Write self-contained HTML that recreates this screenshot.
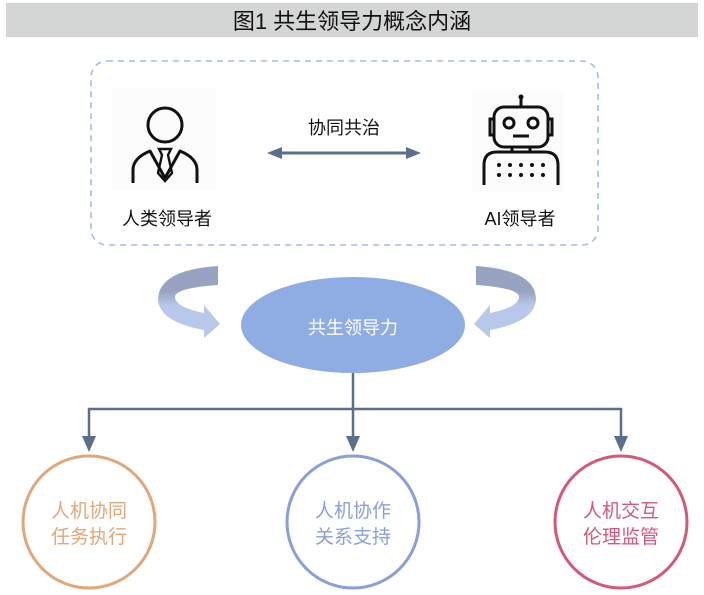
<!DOCTYPE html>
<html><head><meta charset="utf-8"><style>
html,body{margin:0;padding:0;background:#fff;width:704px;height:595px;overflow:hidden}
text{font-family:"Liberation Sans","Noto Sans CJK SC",sans-serif}
</style></head><body>
<svg width="704" height="595" viewBox="0 0 704 595" xmlns="http://www.w3.org/2000/svg">
<rect x="6" y="3" width="692" height="34" fill="#d4d5d5"/>
<text x="352" y="29" font-size="22" text-anchor="middle" fill="#111">图1  共生领导力概念内涵</text>
<rect x="91" y="61" width="507" height="184" rx="16" fill="none" stroke="#a3bbe3" stroke-width="1.6" stroke-dasharray="6,5"/>
<rect x="112" y="88" width="104" height="102" fill="#fcfcfc"/>
<circle cx="165" cy="125" r="17" fill="none" stroke="#111" stroke-width="3"/>
<path d="M133 183 V170 Q133 158 150 151 L165 178 L180 151 Q197 158 197 170 V183" fill="none" stroke="#111" stroke-width="3" stroke-linejoin="round"/>
<path d="M159 149 h12 l-3 6 l4 18 l-7 8 l-7 -8 l4 -18z" fill="none" stroke="#111" stroke-width="2.4"/>
<text x="167" y="225" font-size="18" text-anchor="middle" fill="#111">人类领导者</text>
<line x1="280" y1="153" x2="408" y2="153" stroke="#5a6f8c" stroke-width="3"/>
<polygon points="267,153 282,147 282,159" fill="#5a6f8c"/>
<polygon points="421,153 406,147 406,159" fill="#5a6f8c"/>
<text x="344" y="134" font-size="18" text-anchor="middle" fill="#111">协同共治</text>
<rect x="472" y="92" width="92" height="100" fill="#fcfcfc"/>
<line x1="521" y1="97" x2="521" y2="107" stroke="#111" stroke-width="3"/>
<circle cx="521" cy="97" r="2.5" fill="#111"/>
<rect x="494" y="107" width="54" height="40" rx="10" fill="none" stroke="#111" stroke-width="3"/>
<path d="M494 119 h-4 v16 h4 M548 119 h4 v16 h-4" fill="none" stroke="#111" stroke-width="3"/>
<circle cx="509" cy="123" r="5" fill="none" stroke="#111" stroke-width="3"/>
<circle cx="533" cy="123" r="5" fill="none" stroke="#111" stroke-width="3"/>
<line x1="513" y1="136" x2="529" y2="136" stroke="#111" stroke-width="3"/>
<line x1="512" y1="147" x2="512" y2="152" stroke="#111" stroke-width="3"/>
<line x1="530" y1="147" x2="530" y2="152" stroke="#111" stroke-width="3"/>
<path d="M484 185 V165 Q484 152 497 152 H545 Q558 152 558 165 V185" fill="none" stroke="#111" stroke-width="3"/>
<g fill="#111">
<circle cx="499" cy="165" r="2"/><circle cx="510" cy="165" r="2"/><circle cx="521" cy="165" r="2"/><circle cx="532" cy="165" r="2"/><circle cx="543" cy="165" r="2"/>
<circle cx="499" cy="175" r="2"/><circle cx="510" cy="175" r="2"/><circle cx="521" cy="175" r="2"/><circle cx="532" cy="175" r="2"/><circle cx="543" cy="175" r="2"/>
</g>
<text x="520" y="225" font-size="18" text-anchor="middle" fill="#111">AI领导者</text>
<defs>
<linearGradient id="g1" x1="0" y1="0" x2="0" y2="1"><stop offset="0.35" stop-color="#97a3c0"/><stop offset="0.55" stop-color="#b8c8ea"/></linearGradient>
</defs>
<path d="M218 266 V285 Q175 288 175 297 Q175 307 204 313 V305 L220 324 L204 338 V330 Q160 322 158 300 Q158 270 218 266Z" fill="url(#g1)"/>
<path d="M476 266 V285 Q519 288 519 297 Q519 307 490 313 V305 L474 324 L490 338 V330 Q534 322 536 300 Q536 270 476 266Z" fill="url(#g1)"/>
<ellipse cx="353" cy="325" rx="112" ry="48" fill="#8fade2"/>
<text x="353" y="334" font-size="18" text-anchor="middle" fill="#fff">共生领导力</text>
<g stroke="#5a6f8c" stroke-width="2.5" fill="none">
<line x1="353" y1="373" x2="353" y2="438"/>
<polyline points="89,438 89,409 621,409 621,438"/>
</g>
<g fill="#5a6f8c">
<polygon points="82,436 96,436 89,452"/>
<polygon points="346,436 360,436 353,452"/>
<polygon points="614,436 628,436 621,452"/>
</g>
<ellipse cx="89" cy="522" rx="66" ry="66" fill="none" stroke="#e0a87a" stroke-width="3"/>
<ellipse cx="353" cy="522" rx="66" ry="66" fill="none" stroke="#8a9fd9" stroke-width="3"/>
<ellipse cx="621" cy="522" rx="66" ry="66" fill="none" stroke="#d4587a" stroke-width="3"/>
<g font-size="19" text-anchor="middle">
<text x="89" y="517" fill="#e0a87a">人机协同</text>
<text x="89" y="543" fill="#e0a87a">任务执行</text>
<text x="353" y="517" fill="#8a9fd9">人机协作</text>
<text x="353" y="543" fill="#8a9fd9">关系支持</text>
<text x="621" y="517" fill="#d4587a">人机交互</text>
<text x="621" y="543" fill="#d4587a">伦理监管</text>
</g>
</svg>
</body></html>
